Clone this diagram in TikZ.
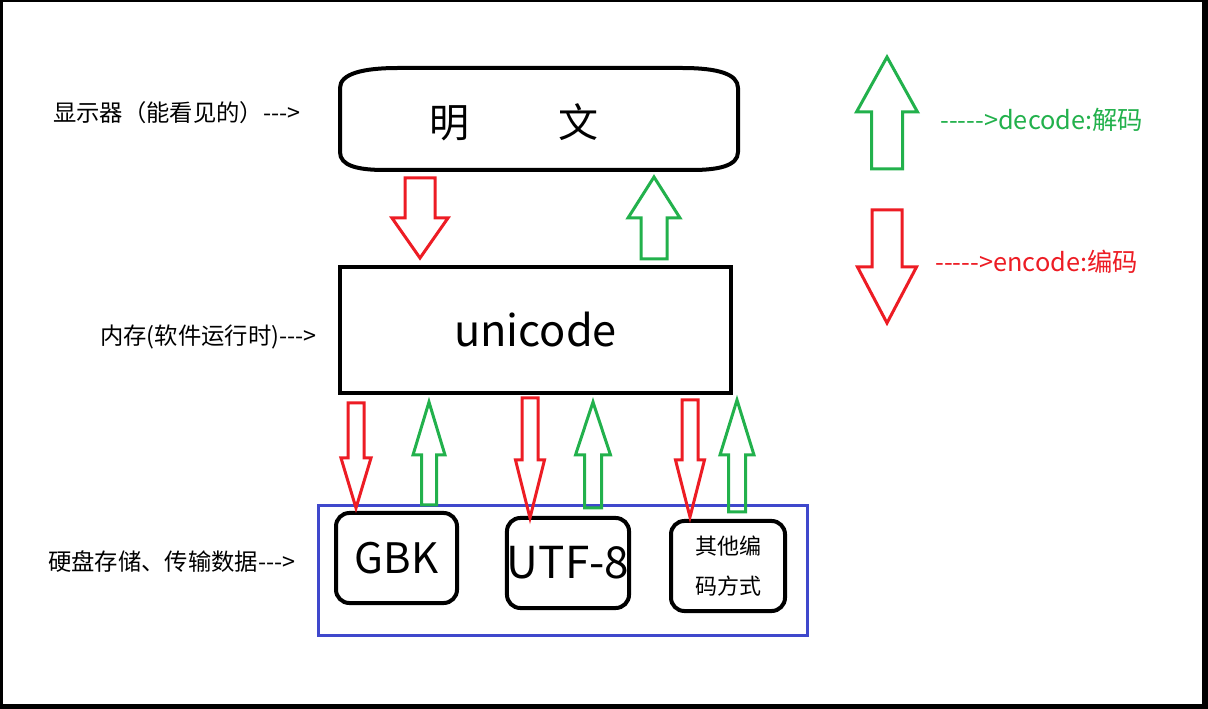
\documentclass[tikz,border=0pt]{standalone}
\usepackage{fontspec}
\newfontfamily\cjk[Ligatures=TeXOff]{Noto Sans CJK SC}
\usetikzlibrary{calc}
\definecolor{paintred}{RGB}{237,28,36}
\definecolor{paintgreen}{RGB}{34,177,76}
\definecolor{paintblue}{RGB}{63,72,204}

\tikzset{
  encode/.style={draw=paintred, line width=2.25pt},
  decode/.style={draw=paintgreen, line width=2.25pt},
  membox/.style={draw, line width=3pt, inner sep=0pt},
  codebox/.style={draw, line width=3pt, rounded corners=10pt, inner sep=0pt, minimum height=67.5pt},
  sidelabel/.style={anchor=west, inner sep=0pt, font=\cjk\fontsize{17.5}{21}\selectfont},
  legendlabel/.style={anchor=west, inner sep=0pt, font=\cjk\fontsize{19}{23}\selectfont},
}

% hollow block arrow: [style]{tail}{tip}{shaft half}{head half}{head length}, in px
\newcommand{\blockarrow}[6][]{%
  \draw[#1] let \p1=(#2), \p2=(#3), \n1={sign(\y2-\y1)}, \n2={\y2-\n1*#6*0.75pt} in
    ({\x1-#4*0.75pt},\y1) -- ({\x1+#4*0.75pt},\y1)
    -- ({\x1+#4*0.75pt},\n2) -- ({\x1+#5*0.75pt},\n2)
    -- (\x2,\y2)
    -- ({\x1-#5*0.75pt},\n2) -- ({\x1-#4*0.75pt},\n2) -- cycle;
}

\begin{document}
\begin{tikzpicture}[x=0.75pt, y=-0.75pt]
    \fill[black] (0,0) rectangle (1208,709);
    \fill[white] (3,2) rectangle (1202,704);

    \draw[line width=3pt] (340,88) .. controls (340,74) and (362,68) .. (398,68) -- (682,68)
      .. controls (718,68) and (738,74) .. (738,88) -- (738,152)
      .. controls (738,166) and (718,170) .. (692,170) -- (385,170)
      .. controls (358,170) and (340,166) .. (340,152) -- cycle;
    \node[inner sep=0pt, font=\cjk\fontsize{30}{36}\selectfont] (mingwen) at (514,122) {明\hspace{66.75pt}文};

    \node[membox, minimum width=293.25pt, minimum height=94.5pt, font=\cjk\fontsize{32.5}{38}\selectfont] (unicode) at (535.5,330) {unicode};

    \node[draw=paintblue, line width=2.25pt, minimum width=366.75pt, minimum height=96.75pt] (disk) at (562.5,570.5) {};
    \node[codebox, minimum width=90.75pt, font=\cjk\fontsize{31.5}{36}\selectfont] (gbk) at (396.5,558) {GBK};
    \node[codebox, minimum width=91.5pt, font=\cjk\fontsize{33}{38}\selectfont] (utf) at (568,563) {UTF-8};
    \node[codebox, minimum width=85.5pt, align=center, font=\cjk\fontsize{16.5}{30}\selectfont] (other) at (728,566) {其他编\\码方式};

    \node[sidelabel] (screen) at (53,113) {显示器（能看见的）--->};
    \node[sidelabel] (memory) at (100,337) {内存(软件运行时)--->};
    \node[sidelabel] (harddisk) at (48,562) {硬盘存储、传输数据--->};

    \node[legendlabel, text=paintgreen] (declabel) at (940,120) {----->decode:解码};
    \node[legendlabel, text=paintred] (enclabel) at (935,262) {----->encode:编码};

    \coordinate (enc0 a) at (420,178);  \coordinate (enc0 b) at (420,258);
    \coordinate (dec0 a) at (654,259);  \coordinate (dec0 b) at (654,177);
    \coordinate (enc1 a) at (356,403);  \coordinate (enc1 b) at (356,508);
    \coordinate (dec1 a) at (429,505);  \coordinate (dec1 b) at (429,402);
    \coordinate (enc2 a) at (530,398);  \coordinate (enc2 b) at (530,518);
    \coordinate (dec2 a) at (593,508);  \coordinate (dec2 b) at (593,402);
    \coordinate (enc3 a) at (690,400);  \coordinate (enc3 b) at (690,517);
    \coordinate (dec3 a) at (737,512);  \coordinate (dec3 b) at (737,400);
    \coordinate (decl a) at (887,169);  \coordinate (decl b) at (887,57);
    \coordinate (encl a) at (887,210);  \coordinate (encl b) at (887,323);

    \blockarrow[encode]{enc0 a}{enc0 b}{15}{28}{40}
    \blockarrow[decode]{dec0 a}{dec0 b}{13}{26}{41}
    \blockarrow[encode]{enc1 a}{enc1 b}{8}{15}{50}
    \blockarrow[decode]{dec1 a}{dec1 b}{7.5}{16}{53}
    \blockarrow[encode]{enc2 a}{enc2 b}{8}{14.5}{58}
    \blockarrow[decode]{dec2 a}{dec2 b}{8.5}{17.5}{53}
    \blockarrow[encode]{enc3 a}{enc3 b}{8}{14.5}{57}
    \blockarrow[decode]{dec3 a}{dec3 b}{8.5}{17}{55}
    \blockarrow[decode]{decl a}{decl b}{15.5}{30.5}{55}
    \blockarrow[encode]{encl a}{encl b}{15}{29.5}{56}
\end{tikzpicture}
\end{document}
